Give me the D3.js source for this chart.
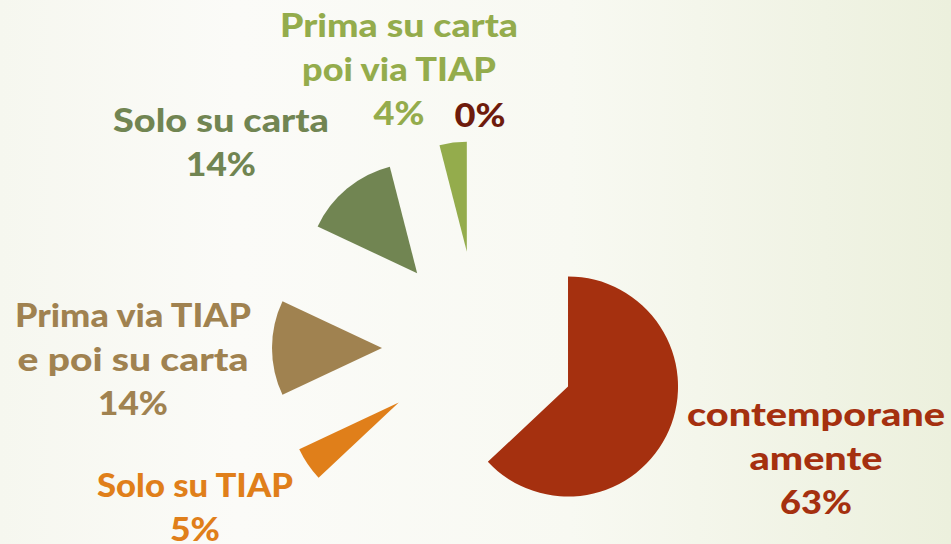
<!DOCTYPE html>
<html>
<head>
<meta charset="utf-8">
<script src="https://cdn.jsdelivr.net/npm/d3@7"></script>
<style>
    body { margin: 0; overflow: hidden; }
    svg { display: block; }
</style>
</head>
<body>
<svg id="chart" width="951" height="544"></svg>
<script>
// Data
var categories = ["contemporaneamente", "Solo su TIAP", "Prima via TIAP e poi su carta", "Solo su carta", "Prima su carta poi via TIAP", "Altro"]
var values = [63, 5, 14, 14, 4, 0]
var nameLines = [["contemporane", "amente"], ["Solo su TIAP"], ["Prima via TIAP", "e poi su carta"], ["Solo su carta"], ["Prima su carta", "poi via TIAP"], []]
var colors = ["#A5300F", "#E07F1A", "#A08250", "#718552", "#94AC4C", "#6E1B0C"]

var width = 951, height = 544
var cx = 479, cy = 348      // pie centre
var radius = 110
var explode = 97            // all slices pulled out of the centre
var lineGap = 44
var fontSize = 33

// label anchor (centre x, first baseline) per slice
var labelAt = [[816, 426], [195, 497], [133, 327], [221, 132], [399, 37], [480, 127]]
// the original font is wider than what we have, so stretch each line to its width
var lineWidth = {
    "contemporane": 258, "amente": 133, "63%": 72,
    "Solo su TIAP": 196, "5%": 50,
    "Prima via TIAP": 236, "e poi su carta": 231, "14%": 70,
    "Solo su carta": 216,
    "Prima su carta": 238, "poi via TIAP": 194, "4%": 51, "0%": 51
}

var svg = d3.select("#chart")

var defs = svg.append("defs")
var grad = defs.append("linearGradient").attr("id", "bg")
    .attr("x1", "0%").attr("x2", "100%").attr("y1", "0%").attr("y2", "0%")
grad.append("stop").attr("offset", "0%").attr("stop-color", "#F6F7EF")
grad.append("stop").attr("offset", "25%").attr("stop-color", "#FBFBF8")
grad.append("stop").attr("offset", "60%").attr("stop-color", "#F8F9F2")
grad.append("stop").attr("offset", "100%").attr("stop-color", "#ECF0DD")

svg.append("rect")
    .attr("width", width).attr("height", height)
    .attr("fill", "url(#bg)")

var pie = d3.pie().sort(null).value(function (d) { return d })
var arc = d3.arc().innerRadius(0).outerRadius(radius)

var arcs = pie(values)

var g = svg.append("g").attr("transform", "translate(" + cx + "," + cy + ")")

g.selectAll(".slice")
    .data(arcs)
    .enter()
    .append("path")
    .attr("class", "slice")
    .attr("d", arc)
    .attr("fill", function (d, i) { return colors[i] })
    .attr("transform", function (d) {
        var a = (d.startAngle + d.endAngle) / 2
        return "translate(" + (explode * Math.sin(a)) + "," + (-explode * Math.cos(a)) + ")"
    })

// Labels: name lines then the percentage
var labels = svg.selectAll(".label")
    .data(arcs)
    .enter()
    .append("text")
    .attr("class", "label")
    .attr("text-anchor", "middle")
    .style("font-family", "Lato, 'Open Sans', sans-serif")
    .style("font-weight", "900")
    .style("font-size", fontSize + "px")
    .attr("fill", function (d, i) { return colors[i] })

labels.each(function (d, i) {
    var lines = nameLines[i].concat([d.value + "%"])
    var t = d3.select(this)
    lines.forEach(function (s, k) {
        t.append("tspan")
            .attr("x", labelAt[i][0])
            .attr("y", labelAt[i][1] + k * lineGap)
            .attr("textLength", lineWidth[s])
            .attr("lengthAdjust", "spacingAndGlyphs")
            .text(s)
    })
})
</script>
</body>
</html>
